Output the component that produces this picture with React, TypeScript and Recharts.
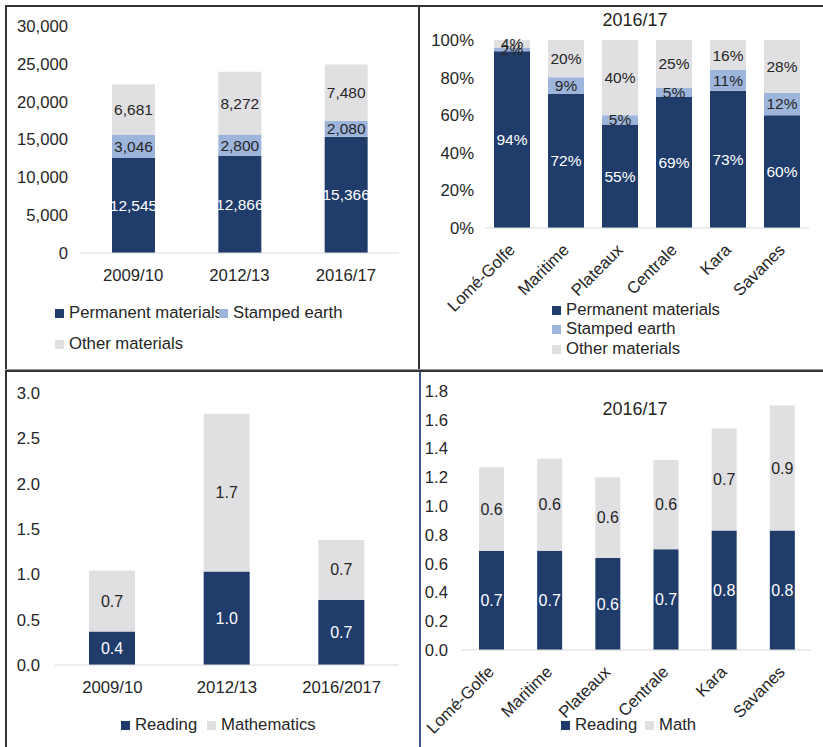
import { BarChart, Bar, XAxis, YAxis, LabelList } from "recharts"

const NAVY = "#1F3C6B"
const LIGHT_BLUE = "#9DB5DB"
const GRAY = "#E0E0E2"
const INK = "#262626"
const AXIS = "#D9D9D9"
const FONT = "'Liberation Sans', Arial, Helvetica, sans-serif"
const TEXT_SIZE = 16.7

// top-left: classrooms by building material
const years1 = ["2009/10", "2012/13", "2016/17"]
const permanent1 = [12545, 12866, 15366]
const stamped1 = [3046, 2800, 2080]
const other1 = [6681, 8272, 7480]
const ticks1 = [0, 5000, 10000, 15000, 20000, 25000, 30000]

// top-right: share by region, 2016/17
const regions = ["Lomé-Golfe", "Maritime", "Plateaux", "Centrale", "Kara", "Savanes"]
const permanent2 = [94, 72, 55, 69, 73, 60]
const stamped2 = [2, 9, 5, 5, 11, 12]
const other2 = [4, 20, 40, 25, 16, 28]
const ticks2 = [0, 0.2, 0.4, 0.6, 0.8, 1]

// bottom-left: textbooks per pupil
const years3 = ["2009/10", "2012/13", "2016/2017"]
const reading3 = [0.37, 1.03, 0.72]
const math3 = [0.67, 1.74, 0.66]
const ticks3 = [0, 0.5, 1, 1.5, 2, 2.5, 3]

// bottom-right: textbooks per pupil by region, 2016/17
const reading4 = [0.69, 0.69, 0.64, 0.7, 0.83, 0.83]
const math4 = [0.58, 0.64, 0.56, 0.62, 0.71, 0.87]
const ticks4 = [0, 0.2, 0.4, 0.6, 0.8, 1, 1.2, 1.4, 1.6, 1.8]

const data1 = years1.map((year, i) => ({ year, permanent: permanent1[i], stamped: stamped1[i], other: other1[i] }))
const data2 = regions.map((region, i) => ({ region, permanent: permanent2[i], stamped: stamped2[i], other: other2[i] }))
const data3 = years3.map((year, i) => ({ year, reading: reading3[i], math: math3[i] }))
const data4 = regions.map((region, i) => ({ region, reading: reading4[i], math: math4[i] }))

const thousands = (v: number) => v.toLocaleString("en-US")
const pct = (v: number) => `${v}%`
const oneDec = (v: number) => Number(v).toFixed(1)

const tickStyle = { fill: INK, fontSize: TEXT_SIZE }

function AngledTick({ x, y, payload }: any) {
  return (
    <text
      x={0}
      y={0}
      transform={`translate(${x + 4},${y + 23}) rotate(-45)`}
      textAnchor="end"
      fill={INK}
      fontSize={TEXT_SIZE}
    >
      {payload.value}
    </text>
  )
}

function LegendItem({ left, cy, color, label }: { left: number; cy: number; color: string; label: string }) {
  return (
    <div
      style={{
        position: "absolute", left, top: cy - 10, height: 20, lineHeight: "20px",
        display: "flex", alignItems: "center", fontSize: TEXT_SIZE, color: INK, whiteSpace: "nowrap",
      }}
    >
      <span style={{ display: "inline-block", width: 9, height: 9, background: color, marginRight: 5 }} />
      {label}
    </div>
  )
}

function Title({ cx, cy, text }: { cx: number; cy: number; text: string }) {
  return (
    <div style={{ position: "absolute", left: cx - 60, width: 120, top: cy - 11, height: 22, lineHeight: "22px", textAlign: "center", fontSize: 18, color: INK }}>
      {text}
    </div>
  )
}

function Line({ left, top, width, height, color = "#333" }: { left: number; top: number; width: number; height: number; color?: string }) {
  return <div style={{ position: "absolute", left, top, width, height, background: color }} />
}

export default function App() {
  return (
    <div style={{ position: "absolute", left: 0, top: 0, width: 823, height: 747, background: "#fff", fontFamily: FONT, overflow: "hidden" }}>
      {/* Top-left */}
      <div style={{ position: "absolute", left: 0, top: 0 }}>
        <BarChart width={419} height={293} data={data1} margin={{ top: 26, right: 20, bottom: 0, left: 0 }} barSize={43}>
          <XAxis dataKey="year" interval={0} height={40} tickLine={false} tickSize={0} tickMargin={16} axisLine={{ stroke: AXIS }} tick={tickStyle} />
          <YAxis domain={[0, 30000]} ticks={ticks1} tickFormatter={thousands} width={80} axisLine={false} tickLine={false} tickSize={0} tickMargin={12} tick={tickStyle} />
          <Bar dataKey="permanent" stackId="a" fill={NAVY} isAnimationActive={false}>
            <LabelList dataKey="permanent" position="center" fill="#fff" fontSize={15.5} formatter={thousands} />
          </Bar>
          <Bar dataKey="stamped" stackId="a" fill={LIGHT_BLUE} isAnimationActive={false}>
            <LabelList dataKey="stamped" position="center" fill={INK} fontSize={15.5} formatter={thousands} />
          </Bar>
          <Bar dataKey="other" stackId="a" fill={GRAY} isAnimationActive={false}>
            <LabelList dataKey="other" position="center" fill={INK} fontSize={15.5} formatter={thousands} />
          </Bar>
        </BarChart>
      </div>
      <LegendItem left={55} cy={313} color={NAVY} label="Permanent materials" />
      <LegendItem left={219} cy={313} color={LIGHT_BLUE} label="Stamped earth" />
      <LegendItem left={55} cy={344} color={GRAY} label="Other materials" />

      {/* Top-right */}
      <div style={{ position: "absolute", left: 419, top: 0 }}>
        <BarChart width={404} height={318} data={data2} stackOffset="expand" margin={{ top: 40, right: 14, bottom: 0, left: 0 }} barSize={36}>
          <XAxis dataKey="region" interval={0} height={90} tickLine={false} tickSize={0} tickMargin={0} axisLine={{ stroke: AXIS }} tick={<AngledTick />} />
          <YAxis domain={[0, 1]} ticks={ticks2} tickFormatter={(v: number) => `${Math.round(v * 100)}%`} width={66} axisLine={false} tickLine={false} tickSize={0} tickMargin={11} tick={tickStyle} />
          <Bar dataKey="permanent" stackId="a" fill={NAVY} isAnimationActive={false}>
            <LabelList dataKey="permanent" position="center" fill="#fff" fontSize={15.5} formatter={pct} />
          </Bar>
          <Bar dataKey="stamped" stackId="a" fill={LIGHT_BLUE} isAnimationActive={false}>
            <LabelList dataKey="stamped" position="center" fill={INK} fontSize={15.5} formatter={pct} />
          </Bar>
          <Bar dataKey="other" stackId="a" fill={GRAY} isAnimationActive={false}>
            <LabelList dataKey="other" position="center" fill={INK} fontSize={15.5} formatter={pct} />
          </Bar>
        </BarChart>
      </div>
      <Title cx={635} cy={20} text="2016/17" />
      <LegendItem left={552} cy={310} color={NAVY} label="Permanent materials" />
      <LegendItem left={552} cy={329} color={LIGHT_BLUE} label="Stamped earth" />
      <LegendItem left={552} cy={349} color={GRAY} label="Other materials" />

      {/* Bottom-left */}
      <div style={{ position: "absolute", left: 0, top: 372 }}>
        <BarChart width={419} height={333} data={data3} margin={{ top: 21, right: 20, bottom: 0, left: 0 }} barSize={46}>
          <XAxis dataKey="year" interval={0} height={40} tickLine={false} tickSize={0} tickMargin={16} axisLine={{ stroke: AXIS }} tick={tickStyle} />
          <YAxis domain={[0, 3]} ticks={ticks3} tickFormatter={oneDec} width={55} axisLine={false} tickLine={false} tickSize={0} tickMargin={15} tick={tickStyle} />
          <Bar dataKey="reading" stackId="a" fill={NAVY} isAnimationActive={false}>
            <LabelList dataKey="reading" position="center" fill="#fff" fontSize={16} formatter={oneDec} />
          </Bar>
          <Bar dataKey="math" stackId="a" fill={GRAY} isAnimationActive={false}>
            <LabelList dataKey="math" position="center" fill={INK} fontSize={16} formatter={oneDec} />
          </Bar>
        </BarChart>
      </div>
      <LegendItem left={121} cy={725} color={NAVY} label="Reading" />
      <LegendItem left={207} cy={725} color={GRAY} label="Mathematics" />

      {/* Bottom-right */}
      <div style={{ position: "absolute", left: 400, top: 372 }}>
        <BarChart width={423} height={375} data={data4} margin={{ top: 19, right: 12, bottom: 0, left: 0 }} barSize={25}>
          <XAxis dataKey="region" interval={0} height={97} tickLine={false} tickSize={0} tickMargin={0} axisLine={{ stroke: AXIS }} tick={<AngledTick />} />
          <YAxis domain={[0, 1.8]} ticks={ticks4} tickFormatter={oneDec} width={62} axisLine={false} tickLine={false} tickSize={0} tickMargin={14} tick={tickStyle} />
          <Bar dataKey="reading" stackId="a" fill={NAVY} isAnimationActive={false}>
            <LabelList dataKey="reading" position="center" fill="#fff" fontSize={16} formatter={oneDec} />
          </Bar>
          <Bar dataKey="math" stackId="a" fill={GRAY} isAnimationActive={false}>
            <LabelList dataKey="math" position="center" fill={INK} fontSize={16} formatter={oneDec} />
          </Bar>
        </BarChart>
      </div>
      <Title cx={635} cy={409} text="2016/17" />
      <LegendItem left={561} cy={725} color={NAVY} label="Reading" />
      <LegendItem left={645} cy={725} color={GRAY} label="Math" />

      {/* panel frames */}
      <Line left={5} top={5} width={818} height={2} />
      <Line left={5} top={5} width={2} height={742} />
      <Line left={418} top={5} width={2} height={365} />
      <Line left={5} top={369} width={818} height={1} color="#999" />
      <Line left={5} top={370} width={818} height={2} />
      <Line left={419} top={372} width={2} height={375} color="#3A5A8C" />
    </div>
  )
}
